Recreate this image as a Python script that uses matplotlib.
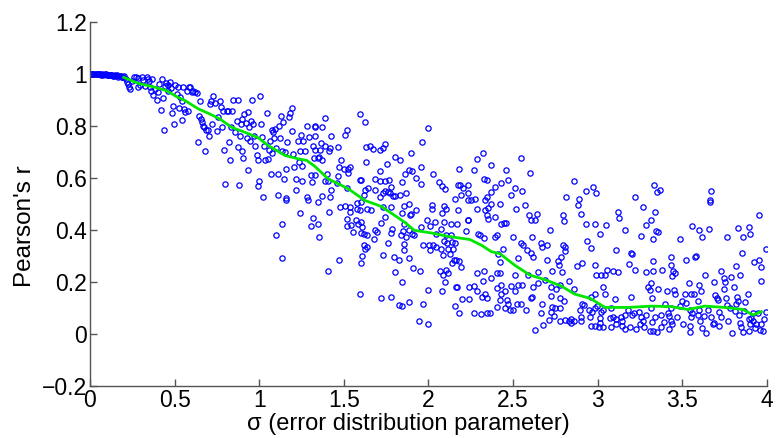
import numpy as np
import matplotlib
matplotlib.use("Agg")
import matplotlib.pyplot as plt

plt.rcParams['font.family'] = ['Liberation Sans', 'DejaVu Sans']

# scatter points (sigma, Pearson's r)
band_flat = [(0.000, 1.000), (0.007, 1.000), (0.014, 1.000), (0.020, 1.000), (0.026, 1.000),
             (0.033, 1.000), (0.040, 1.000), (0.047, 0.999), (0.053, 1.000), (0.060, 0.999),
             (0.065, 0.997), (0.072, 0.998), (0.079, 0.997), (0.086, 0.998), (0.093, 1.000),
             (0.098, 0.997), (0.104, 0.996), (0.111, 0.997), (0.118, 0.996), (0.125, 0.994),
             (0.132, 0.995), (0.138, 0.993), (0.144, 0.992), (0.150, 0.994), (0.157, 0.994),
             (0.162, 0.990), (0.167, 0.989), (0.175, 0.992), (0.183, 0.991), (0.187, 0.988),
             (0.191, 0.986), (0.197, 0.989), (0.203, 0.990), (0.211, 0.980), (0.217, 0.970),
             (0.222, 0.960), (0.230, 0.950), (0.236, 0.941), (0.246, 0.973), (0.262, 0.986),
             (0.270, 0.989), (0.281, 0.983), (0.285, 0.948), (0.295, 0.958), (0.305, 0.989),
             (0.315, 0.976), (0.325, 0.954), (0.335, 0.989), (0.341, 0.980), (0.348, 0.971),
             (0.354, 0.950), (0.360, 0.935), (0.364, 0.978), (0.374, 0.920), (0.384, 0.941),
             (0.394, 0.899), (0.400, 0.928), (0.407, 0.960), (0.419, 0.861), (0.427, 0.980),
             (0.433, 0.907), (0.439, 0.784), (0.443, 0.954), (0.447, 0.963), (0.459, 0.958),
             (0.463, 0.935), (0.472, 0.967), (0.478, 0.945), (0.482, 0.848), (0.492, 0.877),
             (0.498, 0.807), (0.502, 0.958), (0.512, 0.922), (0.518, 0.948), (0.526, 0.868),
             (0.531, 0.909), (0.541, 0.897), (0.545, 0.822), (0.551, 0.948), (0.557, 0.865),
             (0.561, 0.852), (0.571, 0.932), (0.577, 0.858), (0.585, 0.948), (0.590, 0.948),
             (0.600, 0.928), (0.610, 0.932), (0.620, 0.928), (0.630, 0.926)]

band_a = [(0.640, 0.737), (0.644, 0.839), (0.650, 0.897), (0.656, 0.826), (0.663, 0.814),
          (0.669, 0.800), (0.675, 0.797), (0.679, 0.702), (0.683, 0.782), (0.695, 0.784),
          (0.703, 0.762), (0.709, 0.884), (0.715, 0.894), (0.719, 0.807), (0.728, 0.916),
          (0.738, 0.886), (0.748, 0.779), (0.758, 0.835), (0.768, 0.897), (0.774, 0.871),
          (0.778, 0.794), (0.787, 0.858), (0.793, 0.705), (0.797, 0.575), (0.807, 0.856),
          (0.817, 0.858), (0.821, 0.737), (0.827, 0.669), (0.833, 0.794), (0.837, 0.856),
          (0.846, 0.899), (0.856, 0.775), (0.866, 0.820), (0.872, 0.720), (0.876, 0.899),
          (0.880, 0.571), (0.886, 0.759), (0.892, 0.807), (0.896, 0.702), (0.900, 0.826),
          (0.906, 0.677), (0.911, 0.845), (0.919, 0.810), (0.925, 0.754), (0.931, 0.631),
          (0.935, 0.852), (0.939, 0.794), (0.945, 0.743), (0.951, 0.820), (0.955, 0.899),
          (0.965, 0.807), (0.970, 0.762), (0.974, 0.724), (0.984, 0.686), (0.990, 0.567),
          (0.994, 0.669), (0.998, 0.587), (1.004, 0.916), (1.010, 0.807), (1.014, 0.756),
          (1.024, 0.526), (1.030, 0.724), (1.033, 0.669), (1.043, 0.848), (1.049, 0.673),
          (1.057, 0.705), (1.063, 0.743), (1.069, 0.616), (1.073, 0.782), (1.077, 0.695),
          (1.083, 0.775), (1.089, 0.754), (1.096, 0.788), (1.102, 0.715), (1.108, 0.533),
          (1.112, 0.616), (1.116, 0.800), (1.122, 0.754), (1.128, 0.839), (1.132, 0.702),
          (1.142, 0.814), (1.148, 0.596), (1.152, 0.699), (1.156, 0.524), (1.161, 0.635),
          (1.167, 0.737), (1.175, 0.833), (1.181, 0.848), (1.191, 0.779), (1.195, 0.868),
          (1.201, 0.692), (1.207, 0.641), (1.215, 0.554), (1.220, 0.596), (1.230, 0.743),
          (1.234, 0.660), (1.240, 0.702), (1.246, 0.766), (1.250, 0.644), (1.254, 0.587),
          (1.260, 0.743), (1.270, 0.702), (1.280, 0.800), (1.285, 0.526), (1.293, 0.756),
          (1.305, 0.609), (1.309, 0.584), (1.319, 0.724), (1.325, 0.677), (1.329, 0.797),
          (1.161, 0.513), (1.240, 0.465), (1.132, 0.424), (1.305, 0.414), (1.100, 0.381),
          (1.132, 0.290), (1.319, 0.447), (1.289, 0.513)]

band_b_high = [(1.594, 0.845), (1.624, 0.816), (1.388, 0.828), (1.368, 0.797), (1.329, 0.800),
               (1.329, 0.759), (1.423, 0.762), (1.516, 0.784), (1.506, 0.766), (2.000, 0.793),
               (1.963, 0.737), (1.364, 0.735), (1.388, 0.724), (1.417, 0.715), (1.411, 0.702),
               (1.466, 0.720), (1.329, 0.708), (1.358, 0.705), (1.352, 0.679), (1.368, 0.670),
               (1.345, 0.677), (1.628, 0.720), (1.654, 0.724), (1.673, 0.711), (1.713, 0.708),
               (1.732, 0.713), (1.746, 0.730), (1.801, 0.679), (1.831, 0.667), (1.896, 0.695),
               (1.486, 0.669), (1.628, 0.660), (1.752, 0.654), (1.713, 0.628), (1.470, 0.641),
               (1.502, 0.635), (1.526, 0.635), (1.535, 0.641), (1.522, 0.618), (1.466, 0.607),
               (1.398, 0.616), (1.329, 0.609), (1.388, 0.586), (1.404, 0.586), (1.594, 0.590),
               (1.604, 0.590), (1.683, 0.596), (1.713, 0.587), (1.746, 0.587), (1.766, 0.593),
               (1.781, 0.564), (1.742, 0.548), (1.758, 0.545), (1.772, 0.541), (1.791, 0.529),
               (1.732, 0.541), (1.844, 0.584), (1.864, 0.616), (1.886, 0.631), (1.904, 0.626),
               (1.929, 0.600), (1.955, 0.575), (1.955, 0.641), (2.028, 0.614), (2.061, 0.584),
               (2.077, 0.567), (2.096, 0.558), (1.831, 0.535), (1.870, 0.541), (1.801, 0.529),
               (1.624, 0.554), (1.644, 0.561), (1.620, 0.533), (1.683, 0.552), (1.711, 0.526),
               (1.516, 0.561), (1.457, 0.581), (1.427, 0.552), (1.417, 0.526), (1.368, 0.529),
               (2.180, 0.633), (2.172, 0.571), (2.187, 0.571), (2.205, 0.561), (2.232, 0.571),
               (2.232, 0.541), (2.156, 0.520), (2.269, 0.631), (2.287, 0.673), (2.323, 0.695),
               (2.372, 0.650), (2.329, 0.596), (2.343, 0.590), (2.396, 0.564), (2.431, 0.580),
               (2.459, 0.631), (2.470, 0.590), (2.514, 0.562), (2.547, 0.676), (2.555, 0.548),
               (2.601, 0.618), (2.490, 0.533), (2.372, 0.545), (2.343, 0.526), (2.274, 0.520),
               (2.191, 0.533), (2.860, 0.589), (2.815, 0.527), (2.890, 0.520), (2.933, 0.549),
               (2.972, 0.564), (2.988, 0.543), (3.219, 0.526), (3.331, 0.572), (3.350, 0.545),
               (3.366, 0.552), (3.667, 0.549), (3.661, 0.513)]

band_b_low = [(1.348, 0.507), (1.411, 0.469), (1.348, 0.421), (1.352, 0.373), (1.476, 0.488),
              (1.506, 0.490), (1.535, 0.488), (1.580, 0.503), (1.604, 0.507), (1.575, 0.481),
              (1.594, 0.478), (1.639, 0.481), (1.663, 0.475), (1.535, 0.469), (1.520, 0.443),
              (1.516, 0.414), (1.541, 0.418), (1.569, 0.437), (1.604, 0.431), (1.608, 0.411),
              (1.581, 0.424), (1.555, 0.392), (1.604, 0.388), (1.620, 0.386), (1.634, 0.379),
              (1.683, 0.401), (1.693, 0.392), (1.679, 0.363), (1.620, 0.341), (1.634, 0.335),
              (1.624, 0.328), (1.608, 0.299), (1.604, 0.273), (1.732, 0.303), (1.719, 0.427),
              (1.746, 0.450), (1.732, 0.488), (1.777, 0.488), (1.785, 0.405), (1.781, 0.388),
              (1.762, 0.350), (1.797, 0.294), (1.825, 0.285), (1.805, 0.239), (1.844, 0.199),
              (1.470, 0.286), (1.407, 0.243), (1.594, 0.153), (1.722, 0.140), (1.777, 0.143),
              (1.823, 0.111), (1.843, 0.107), (1.882, 0.124), (1.965, 0.115), (1.943, 0.051),
              (1.998, 0.038), (1.996, 0.169), (1.907, 0.255), (1.951, 0.243), (1.882, 0.290),
              (1.858, 0.322), (1.858, 0.347), (1.868, 0.373), (1.837, 0.379), (1.850, 0.396),
              (1.884, 0.401), (1.900, 0.386), (1.917, 0.379), (1.858, 0.421), (1.888, 0.456),
              (1.898, 0.460), (1.844, 0.465), (1.858, 0.490), (1.882, 0.500), (1.929, 0.478),
              (1.955, 0.411), (1.994, 0.437), (2.008, 0.414), (2.018, 0.494), (2.018, 0.481),
              (2.037, 0.432), (2.077, 0.465), (2.093, 0.490), (2.106, 0.481), (2.093, 0.432),
              (2.136, 0.421), (2.171, 0.424), (2.175, 0.475), (2.231, 0.437), (2.219, 0.396),
              (2.047, 0.385), (2.073, 0.405), (2.106, 0.379), (2.136, 0.379), (1.969, 0.341),
              (2.002, 0.341), (2.008, 0.322), (2.028, 0.341), (2.047, 0.335), (2.073, 0.325),
              (2.093, 0.358), (2.112, 0.350), (2.140, 0.354), (2.156, 0.350), (2.116, 0.328),
              (2.146, 0.325), (2.087, 0.303), (2.126, 0.306), (2.152, 0.283), (2.140, 0.273),
              (2.165, 0.285), (2.179, 0.280), (2.191, 0.258), (2.106, 0.245), (2.067, 0.243),
              (2.087, 0.226), (2.116, 0.235), (2.096, 0.200), (2.077, 0.166), (2.165, 0.179),
              (2.171, 0.181), (2.156, 0.107), (2.179, 0.079), (2.200, 0.133), (2.240, 0.133),
              (2.240, 0.181), (2.270, 0.184), (2.285, 0.166), (2.285, 0.235), (2.269, 0.079),
              (2.309, 0.076), (2.317, 0.143), (2.333, 0.153), (2.343, 0.140), (2.323, 0.203),
              (2.329, 0.243), (2.372, 0.214), (2.402, 0.235), (2.421, 0.235), (2.343, 0.079),
              (2.362, 0.081), (2.402, 0.105), (2.421, 0.130), (2.406, 0.175), (2.430, 0.188),
              (2.430, 0.153), (2.451, 0.166), (2.461, 0.130), (2.467, 0.115), (2.455, 0.098),
              (2.482, 0.092), (2.502, 0.092), (2.522, 0.115), (2.490, 0.184), (2.510, 0.166),
              (2.529, 0.188), (2.553, 0.188), (2.549, 0.115), (2.579, 0.092), (2.604, 0.137),
              (2.612, 0.143), (2.618, 0.179), (2.648, 0.197), (2.671, 0.115), (2.663, 0.081),
              (2.628, 0.015), (2.677, 0.035), (2.510, 0.226), (2.589, 0.226), (2.648, 0.239),
              (2.530, 0.290), (2.421, 0.277), (2.412, 0.306), (2.441, 0.325), (2.392, 0.373),
              (2.402, 0.379), (2.329, 0.370), (2.293, 0.386), (2.303, 0.379), (2.392, 0.450),
              (2.431, 0.424), (2.445, 0.427), (2.459, 0.427), (2.500, 0.373), (2.545, 0.350),
              (2.559, 0.341), (2.585, 0.322), (2.604, 0.312), (2.618, 0.296), (2.610, 0.373),
              (2.667, 0.350), (2.671, 0.335), (2.593, 0.456), (2.604, 0.437), (2.628, 0.437),
              (2.644, 0.462), (2.573, 0.494), (2.520, 0.481), (2.421, 0.500), (2.372, 0.500),
              (2.352, 0.485), (2.333, 0.475), (2.343, 0.456), (2.350, 0.443), (2.289, 0.481),
              (2.254, 0.513), (2.232, 0.513), (2.234, 0.437), (2.333, 0.513)]

band_c = [(2.884, 0.494), (2.795, 0.456), (2.801, 0.435), (2.903, 0.460), (2.933, 0.421),
          (2.982, 0.421), (3.051, 0.418), (3.012, 0.383), (2.716, 0.398), (3.120, 0.469),
          (3.124, 0.447), (3.159, 0.398), (3.268, 0.488), (3.341, 0.469), (3.317, 0.439),
          (3.287, 0.420), (3.346, 0.396), (3.356, 0.392), (3.258, 0.375), (3.327, 0.363),
          (3.484, 0.366), (3.557, 0.414), (3.596, 0.398), (3.616, 0.373), (3.655, 0.405),
          (3.661, 0.507), (3.766, 0.373), (3.829, 0.409), (3.858, 0.373), (3.892, 0.411),
          (3.898, 0.385), (3.953, 0.456), (2.939, 0.358), (2.959, 0.332), (3.106, 0.324),
          (3.195, 0.311), (3.203, 0.306), (2.703, 0.341), (2.795, 0.341), (2.809, 0.335),
          (2.805, 0.319), (2.703, 0.286), (2.766, 0.281), (2.785, 0.294), (2.770, 0.264),
          (2.789, 0.239), (2.732, 0.243), (2.909, 0.273), (2.880, 0.261), (2.982, 0.264),
          (2.992, 0.226), (3.017, 0.226), (3.041, 0.226), (3.057, 0.245), (3.090, 0.243),
          (3.120, 0.239), (3.183, 0.268), (3.219, 0.245), (3.287, 0.239), (3.327, 0.281),
          (3.327, 0.243), (3.380, 0.245), (3.431, 0.294), (3.431, 0.264), (3.445, 0.243),
          (3.455, 0.235), (3.441, 0.222), (3.524, 0.286), (3.583, 0.298), (3.577, 0.294),
          (3.636, 0.226), (3.687, 0.200), (3.726, 0.243), (3.746, 0.214), (3.750, 0.200),
          (3.785, 0.218), (3.819, 0.261), (3.839, 0.226), (3.853, 0.311), (3.923, 0.277),
          (3.951, 0.286), (3.963, 0.258), (3.963, 0.205), (3.996, 0.328)]

band_d = [(2.687, 0.207), (2.722, 0.179), (2.776, 0.188), (2.756, 0.171), (2.829, 0.205),
          (2.862, 0.171), (2.722, 0.146), (2.780, 0.140), (2.801, 0.128), (2.730, 0.102),
          (2.746, 0.098), (2.776, 0.098), (2.722, 0.086), (2.742, 0.069), (2.711, 0.053),
          (2.780, 0.051), (2.809, 0.053), (2.829, 0.051), (2.845, 0.056), (2.862, 0.051),
          (2.841, 0.043), (2.894, 0.092), (2.909, 0.115), (2.921, 0.111), (2.949, 0.094),
          (2.900, 0.064), (2.953, 0.064), (2.967, 0.083), (2.986, 0.098), (2.998, 0.107),
          (2.963, 0.143), (2.982, 0.153), (3.031, 0.179), (3.041, 0.153), (3.017, 0.083),
          (3.031, 0.092), (3.012, 0.060), (3.012, 0.043), (3.006, 0.028), (2.982, 0.031),
          (3.031, 0.026), (2.963, 0.031), (3.081, 0.098), (3.100, 0.133), (3.093, 0.064),
          (3.106, 0.056), (3.138, 0.066), (3.144, 0.051), (3.159, 0.073), (3.142, 0.031),
          (3.161, 0.018), (3.189, 0.028), (3.203, 0.073), (3.215, 0.079), (3.199, 0.143),
          (3.179, 0.094), (3.242, 0.086), (3.258, 0.066), (3.268, 0.051), (3.274, 0.028),
          (3.287, 0.073), (3.313, 0.098), (3.297, 0.179), (3.313, 0.194), (3.307, 0.169),
          (3.319, 0.140), (3.339, 0.064), (3.319, 0.047), (3.307, 0.013), (3.327, 0.013),
          (3.356, 0.171), (3.376, 0.073), (3.389, 0.047), (3.400, 0.115), (3.410, 0.166),
          (3.415, 0.081), (3.430, 0.098), (3.423, 0.069), (3.435, 0.051), (3.423, 0.018),
          (3.439, 0.038), (3.451, 0.169), (3.459, 0.153), (3.470, 0.064), (3.484, 0.107),
          (3.498, 0.128), (3.504, 0.038), (3.514, 0.153), (3.524, 0.120), (3.537, 0.197),
          (3.543, 0.094), (3.549, 0.064), (3.543, 0.031), (3.543, 0.009), (3.549, 0.153),
          (3.569, 0.153), (3.594, 0.128), (3.598, 0.094), (3.594, 0.073), (3.604, 0.051),
          (3.598, 0.188), (3.612, 0.166), (3.618, 0.022), (3.638, 0.005), (3.628, 0.069),
          (3.652, 0.094), (3.671, 0.064), (3.681, 0.038), (3.695, 0.148), (3.707, 0.140),
          (3.711, 0.130), (3.715, 0.031), (3.730, 0.064), (3.746, 0.171), (3.760, 0.140),
          (3.766, 0.111), (3.770, 0.051), (3.780, 0.098), (3.794, 0.005), (3.805, 0.179),
          (3.819, 0.115), (3.825, 0.143), (3.829, 0.128), (3.833, 0.073), (3.839, 0.043),
          (3.865, 0.088), (3.872, 0.124), (3.888, 0.153), (3.892, 0.056), (3.898, 0.038),
          (3.908, 0.060), (3.917, 0.051), (3.927, 0.022), (3.937, 0.038), (3.947, 0.081),
          (3.957, 0.015), (3.967, 0.038), (3.976, 0.013), (3.982, 0.056), (3.996, 0.086),
          (3.892, 0.013), (3.858, 0.009), (3.848, 0.026), (3.917, 0.079), (3.809, 0.088),
          (3.715, 0.086), (3.687, 0.043), (3.557, 0.079), (3.352, 0.009), (3.376, 0.026),
          (3.228, 0.018), (3.081, 0.026), (3.071, 0.060), (2.904, 0.051), (3.110, 0.038),
          (3.248, 0.038)]

# running mean (green curve)
trend_sigma = [0.20, 0.285, 0.384, 0.453, 0.512, 0.561, 0.64, 0.709, 0.768, 0.837, 0.915,
               0.994, 1.053, 1.152, 1.23, 1.28, 1.329, 1.407, 1.526, 1.624, 1.722, 1.858,
               1.917, 2.018, 2.116, 2.244, 2.313, 2.372, 2.421, 2.51, 2.60, 2.687, 2.785,
               2.864, 2.955, 3.043, 3.18, 3.317, 3.435, 3.533, 3.632, 3.75, 3.858, 3.917,
               3.967]
trend_r = [0.986, 0.963, 0.948, 0.935, 0.912, 0.897, 0.865, 0.845, 0.826, 0.794, 0.775,
           0.754, 0.724, 0.686, 0.673, 0.667, 0.644, 0.596, 0.558, 0.513, 0.49, 0.43,
           0.398, 0.388, 0.375, 0.363, 0.341, 0.316, 0.309, 0.264, 0.226, 0.209, 0.184,
           0.153, 0.137, 0.102, 0.102, 0.107, 0.105, 0.094, 0.107, 0.102, 0.094, 0.073,
           0.086]

x_ticks = [0, 0.5, 1, 1.5, 2, 2.5, 3, 3.5, 4]
y_ticks = [-0.2, 0, 0.2, 0.4, 0.6, 0.8, 1, 1.2]

pts = band_flat + band_a + band_b_high + band_b_low + band_c + band_d
sig, r = zip(*pts)

fig = plt.figure(figsize=(7.77, 4.38), dpi=100)
ax = fig.add_axes([0.1158, 0.1187, 0.8713, 0.8318])

ax.plot(sig, r, linestyle='none', marker='o', markersize=3.8, markerfacecolor='none',
        markeredgecolor='#0000ff', markeredgewidth=0.9)
ax.plot(trend_sigma, trend_r, color='#00e600', linewidth=2.0)

ax.set_xlim(0, 4)
ax.set_ylim(-0.2, 1.2)
ax.set_xticks(x_ticks)
ax.set_xticklabels(['0', '0.5', '1', '1.5', '2', '2.5', '3', '3.5', '4'])
ax.set_yticks(y_ticks)
ax.set_yticklabels(['\u22120.2', '0', '0.2', '0.4', '0.6', '0.8', '1', '1.2'])

for s in ['top', 'right']:
    ax.spines[s].set_visible(False)
for s in ['left', 'bottom']:
    ax.spines[s].set_color('#555555')
    ax.spines[s].set_linewidth(1.0)
ax.tick_params(direction='in', length=5, width=1, color='#555555', labelsize=16.5, pad=2)

ax.set_xlabel('\u03c3 (error distribution parameter)', fontsize=17)
ax.set_ylabel("Pearson's r", fontsize=17.5)
ax.xaxis.set_label_coords(0.47, -0.073)
ax.yaxis.set_label_coords(-0.08, 0.44)

fig.savefig('out.png', dpi=100)
